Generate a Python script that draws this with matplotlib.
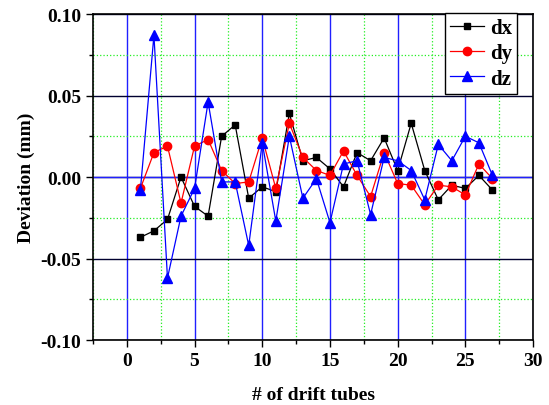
import matplotlib
matplotlib.use("Agg")
import matplotlib.pyplot as plt
from matplotlib.ticker import MultipleLocator

tubes = list(range(1, 28))
dx = [-0.037, -0.033, -0.026, 0.000, -0.018, -0.024, 0.025, 0.032, -0.013, -0.006,
      -0.009, 0.039, 0.010, 0.012, 0.005, -0.006, 0.015, 0.010, 0.024, 0.004,
      0.033, 0.004, -0.014, -0.005, -0.007, 0.001, -0.008]
dy = [-0.007, 0.015, 0.019, -0.016, 0.019, 0.023, 0.004, -0.004, -0.003, 0.024,
      -0.007, 0.033, 0.012, 0.004, 0.001, 0.016, 0.001, -0.012, 0.015, -0.004,
      -0.005, -0.017, -0.005, -0.006, -0.011, 0.008, -0.001]
dz = [-0.008, 0.087, -0.062, -0.024, -0.007, 0.046, -0.003, -0.003, -0.042, 0.021,
      -0.027, 0.025, -0.013, -0.001, -0.028, 0.008, 0.010, -0.023, 0.012, 0.010,
      0.004, -0.014, 0.020, 0.010, 0.025, 0.021, 0.001]

plt.rcParams['font.family'] = ['Liberation Serif', 'DejaVu Serif']
plt.rcParams['font.weight'] = 'bold'

fig = plt.figure(figsize=(5.49, 4.06), dpi=100)
ax = fig.add_axes([0.1694, 0.160, 0.8016, 0.803])

ax.set_xlim(-2.5, 30)
ax.set_ylim(-0.10, 0.10)
ax.xaxis.set_major_locator(MultipleLocator(5))
ax.xaxis.set_minor_locator(MultipleLocator(2.5))
ax.yaxis.set_major_locator(MultipleLocator(0.05))
ax.yaxis.set_minor_locator(MultipleLocator(0.025))

# grids
ax.grid(which='minor', color='#22ee22', linestyle=':', linewidth=0.9)
ax.xaxis.grid(which='major', color='#2020ff', linestyle='-', linewidth=1.0)
ax.yaxis.grid(which='major', color='#000030', linestyle='-', linewidth=1.0)
ax.axhline(0, color='#2020ff', linewidth=1.0, zorder=1)
ax.set_axisbelow(True)

ax.plot(tubes, dx, color='black', marker='s', markersize=5, linewidth=0.9, label='dx', zorder=3)
ax.plot(tubes, dy, color='red', marker='o', markersize=6, linewidth=0.9, label='dy', zorder=4)
ax.plot(tubes, dz, color='blue', marker='^', markersize=6.5, linewidth=0.9, label='dz', zorder=5)

ax.set_xticks([0, 5, 10, 15, 20, 25, 30])
ax.set_yticks([-0.10, -0.05, 0.00, 0.05, 0.10])
ax.set_yticklabels(['-0.10', '-0.05', '0.00', '0.05', '0.10'])
ax.tick_params(which='both', direction='out', labelsize=14, width=1.0)
ax.tick_params(which='major', length=5)
ax.tick_params(which='minor', length=3)
for lab in ax.get_xticklabels() + ax.get_yticklabels():
    lab.set_fontweight('bold')
for s in ax.spines.values():
    s.set_linewidth(1.2)

ax.set_xlabel('# of drift tubes', fontsize=14, fontweight='bold', labelpad=12)
ax.set_ylabel('Deviation (mm)', fontsize=14, fontweight='bold', labelpad=4)

leg = ax.legend(loc='upper right', bbox_to_anchor=(0.964, 1.003), fontsize=15,
                frameon=True, fancybox=False, edgecolor='black', framealpha=1,
                handlelength=1.6, handletextpad=0.3, borderpad=0.25, labelspacing=0.25,
                borderaxespad=0.0)
leg.get_frame().set_linewidth(1.0)
for t in leg.get_texts():
    t.set_fontweight('bold')

fig.savefig('out.png', dpi=100)
